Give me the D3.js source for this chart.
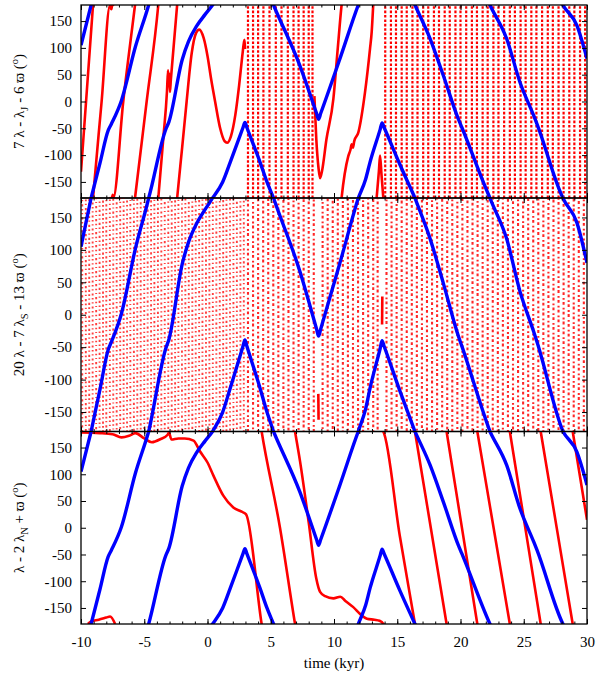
<!DOCTYPE html>
<html>
<head>
<meta charset="utf-8">
<script src="https://cdn.jsdelivr.net/npm/d3@7"></script>
<style>
body { margin: 0; background: #fff; }
svg text { font-family: "Liberation Serif", "DejaVu Serif", serif; font-size: 15px; fill: #000; }
.axis line { stroke: #000; stroke-width: 1; }
.frame { fill: none; stroke: #000; stroke-width: 1.3; }
.blue { fill: none; stroke: #0000ff; stroke-width: 3.4; stroke-linejoin: round; }
.red { fill: none; stroke: #ff0000; stroke-width: 2.6; stroke-linejoin: round; }
.cols1 { stroke: #ff0000; stroke-width: 2.2; stroke-dasharray: 2.6 1.8; }
</style>
</head>
<body>
<div id="chart"></div>
<script>
// ticks
const xMajor = [-10, -5, 0, 5, 10, 15, 20, 25, 30]
const xMinor = d3.range(-10, 31, 1)
const yMajor = [-150, -100, -50, 0, 50, 100, 150]

// blue angle (unwrapped, degrees) - same curve in the three panels
const blueCurve = [[-10,105],[-9.2,180],[-8.5,245],[-7.85,306],[-7.6,318],[-6.8,362],[-5.7,462],[-4.65,540],
  [-3.3,668],[-3.05,682],[-2.0,798],[-1.5,832],[-0.85,861],[-0.2,882],[0.4,900],[1.2,930],[1.8,967],
  [2.8,1031],[2.96,1041],[3.12,1031],[4.15,967],[4.7,930],[5.22,900],[7.3,787],[8.62,698],[8.78,687],
  [8.95,698],[10.47,800],[11.92,900],[12.5,935],[12.85,967],[13.65,1028],[13.8,1040],[13.97,1031],
  [15.2,963],[16.4,900],[17.6,837],[18.65,768],[19.85,686],[20.1,672],[22.33,540],[23.65,477],[24.7,396],
  [25.8,333],[26.05,318],[28.1,180],[29.2,142],[30,80]]

// panel 1 : 7λ - λJ - 6ϖ, solid parts (unwrapped)
const red1a = [[-10,-131],[-9.05,180],[-8.37,360],[-7.7,540],[-7.6,532],[-7.5,546],[-7.45,540],[-6.66,720],
  [-5.73,900],[-4.81,1080],[-3.89,1260],[-3.5,1370],[-3.2,1460],[-3.12,1498],[-3.07,1470],[-3.02,1492],
  [-2.97,1458],[-2.9,1480],[-2.4,1620],[-2.0,1715],[-1.65,1800],[-1.25,1890],[-0.9,1928],[-0.65,1934],
  [-0.3,1918],[0.0,1885],[0.3,1840],[0.6,1800],[1.0,1750],[1.35,1726],[1.55,1723],[1.85,1735],[2.2,1775],
  [2.5,1830],[2.75,1885],[2.88,1910],[2.93,1915],[2.97,1898]]
const red1b = [[8.45,10],[8.6,-70],[8.78,-125],[8.9,-143],[9.05,-130],[9.4,-71],[9.95,5],[10.3,100],[10.6,180],
  [11.13,258],[11.3,270],[11.4,280],[11.5,274],[11.6,286],[11.92,302],[12.45,377],[12.85,459],[12.98,490],[13.1,540]]
const red1c = [[13.37,-180],[13.55,-130],[13.64,-101],[13.75,-135],[13.9,-180]]
// panel 1 : fast circulation, sampled columns (kyr)
const red1Cols = [3.2,3.6,4.0,4.42,4.9,5.4,5.85,6.35,6.8,7.2,7.6,8.0,8.3,
  14.05,14.5,14.9,15.35,15.75,16.2,16.6,17.05,17.45,17.9,18.3,18.75,19.15,19.6,20.0,20.45,20.9,21.3,21.75,
  22.15,22.6,23.0,23.45,23.9,24.3,24.75,25.15,25.6,26.0,26.45,26.9,27.3,27.75,28.15,28.6,29.0,29.45,29.85]

// panel 2 : 20λ - 7λS - 13ϖ, chaotic columns (kyr)
const red2Cols = [-9.9,-9.62,-9.35,-9.08,-8.8,-8.53,-8.26,-8.0,-7.72,-7.45,-7.18,-6.9,-6.63,-6.36,-6.1,-5.82,
  -5.55,-5.28,-5.0,-4.73,-4.46,-4.2,-3.92,-3.65,-3.38,-3.1,-2.83,-2.56,-2.3,-2.02,-1.75,-1.48,-1.2,-0.93,-0.66,
  -0.4,-0.12,0.15,0.42,0.7,0.97,1.24,1.5,1.78,2.05,2.32,2.6,2.87,
  3.2,3.6,4.0,4.4,4.8,5.2,5.6,6.0,6.4,6.8,7.2,7.6,8.0,8.4,9.1,9.5,9.9,10.3,10.7,11.1,11.5,11.9,12.3,12.7,
  13.1,13.45,14.15,14.55,14.95,15.35,15.75,16.15,16.55,16.95,17.35,17.75,18.15,18.55,18.95,19.35,19.75,
  20.15,20.55,20.95,21.35,21.75,22.15,22.55,22.95,23.35,23.75,24.15,24.55,24.95,25.35,25.75,26.15,26.55,
  26.95,27.35,27.75,28.15,28.55,28.95,29.35,29.75]
const red2a = [[8.76,-122],[8.78,-162]]
const red2b = [[13.8,-15],[13.82,28]]

// panel 3 : λ - 2λN + ϖ (unwrapped)
const red3a = [[-10,178],[-8.5,177],[-7.5,175],[-6.8,169],[-6.2,172],[-5.7,177],[-5.0,167],[-4.4,160],
  [-3.7,166],[-3.15,174],[-3.05,178],[-2.85,165],[-2.3,167],[-1.8,167],[-1.1,163],[-0.6,143],[0.0,122],
  [0.46,98],[1.25,60],[2.04,38],[2.7,30],[3.05,25],[4.28,-180],[5.73,-360],[6.92,-540],[7.31,-595],
  [8.0,-710],[8.6,-815],[8.9,-840],[9.3,-848],[9.95,-852],[10.5,-849],[10.9,-857],[11.5,-868],[12.1,-882],
  [12.6,-890],[13.2,-892],[13.6,-894],[13.9,-900],[15.2,-1095],[16.4,-1260],[18.9,-1620],[21.33,-1980],
  [23.9,-2340],[26.34,-2700],[28.87,-3060],[30,-3225]]
const red3b = [[-9.45,-180],[-9.2,-175],[-8.6,-172],[-8.0,-168],[-7.7,-166],[-7.3,-180]]

// y labels
const yLabels = [
  [["7 λ - λ",""],["J","sub"],[" - 6 ϖ (",""],["o","sup"],[")",""]],
  [["20 λ - 7 λ",""],["S","sub"],[" - 13 ϖ (",""],["o","sup"],[")",""]],
  [["λ - 2 λ",""],["N","sub"],[" + ϖ (",""],["o","sup"],[")",""]]
]

const width = 596
const height = 674
const margin = { left: 81, right: 9 }
const panelBox = [{ top: 5, bottom: 198 }, { top: 198, bottom: 431.5 }, { top: 431.5, bottom: 624 }]
const serif = '"Liberation Serif", "DejaVu Serif", serif'

const svg = d3.select("#chart").append("svg").attr("width", width).attr("height", height)
const x = d3.scaleLinear().domain([-10, 30]).range([margin.left, width - margin.right])

// draws an angle series wrapped into [-180,180]
function drawWrapped(group, data, y, cls) {
  const vals = data.map(d => d[1])
  const kMin = Math.ceil((d3.min(vals) - 180) / 360)
  const kMax = Math.floor((d3.max(vals) + 180) / 360)
  for (let k = kMin; k <= kMax; k++) {
    group.append("path").datum(data).attr("class", cls)
      .attr("d", d3.line().curve(d3.curveMonotoneX).x(d => x(d[0])).y(d => y(d[1] - 360 * k)))
  }
}

function drawCols(group, cols, y, styleFn) {
  group.selectAll("line.col").data(cols).join("line")
    .attr("class", "col")
    .attr("x1", d => x(d)).attr("x2", d => x(d))
    .attr("y1", y(-180)).attr("y2", y(180))
    .each(function(d, i) { styleFn(d3.select(this), d, i) })
}

panelBox.forEach((p, i) => {
  const y = d3.scaleLinear().domain([-180, 180]).range([p.bottom, p.top])
  svg.append("clipPath").attr("id", "clip" + i).append("rect")
    .attr("x", x(-10)).attr("y", p.top).attr("width", x(30) - x(-10)).attr("height", p.bottom - p.top)
  const g = svg.append("g").attr("clip-path", `url(#clip${i})`)

  if (i === 0) {
    drawCols(g, red1Cols, y, s => s.attr("class", "col cols1"))
    drawWrapped(g, red1a, y, "red")
    drawWrapped(g, red1b, y, "red")
    drawWrapped(g, red1c, y, "red")
  }
  if (i === 1) {
    drawCols(g, red2Cols, y, (s, d, j) => {
      s.attr("stroke", "#ff0000")
      if (d < 3) {
        s.attr("stroke-width", 1.9).attr("opacity", 0.75)
          .attr("stroke-dasharray", "1.6 2.4 2.2 3 1.2 2.6")
          .attr("stroke-dashoffset", (j * 3.7) % 13)
      } else {
        s.attr("stroke-width", 2.1).attr("opacity", 0.85)
          .attr("stroke-dasharray", "2.8 2.2 1.8 3")
          .attr("stroke-dashoffset", (j * 2.3) % 10)
      }
    })
    drawWrapped(g, red2a, y, "red")
    drawWrapped(g, red2b, y, "red")
  }
  if (i === 2) {
    drawWrapped(g, red3a, y, "red")
    drawWrapped(g, red3b, y, "red")
  }
  drawWrapped(g, blueCurve, y, "blue")

  // axes, ticks pointing inward on all sides
  const noDomain = a => a.attr("font-family", serif).attr("font-size", 15).select(".domain").remove()
  svg.append("g").attr("class", "axis").attr("transform", `translate(${x(-10)},0)`)
    .call(d3.axisLeft(y).tickValues(yMajor).tickSizeInner(-5).tickSizeOuter(0).tickPadding(9).tickFormat(d => String(d)))
    .call(noDomain)
  svg.append("g").attr("class", "axis").attr("transform", `translate(${x(30)},0)`)
    .call(d3.axisRight(y).tickValues(yMajor).tickSizeInner(-5).tickSizeOuter(0).tickFormat(""))
    .call(noDomain)
  svg.append("g").attr("class", "axis").attr("transform", `translate(0,${p.top})`)
    .call(d3.axisTop(x).tickValues(xMinor).tickSizeInner(-2.5).tickSizeOuter(0).tickFormat(""))
    .call(noDomain)
  svg.append("g").attr("class", "axis").attr("transform", `translate(0,${p.top})`)
    .call(d3.axisTop(x).tickValues(xMajor).tickSizeInner(-5).tickSizeOuter(0).tickFormat(""))
    .call(noDomain)
  svg.append("g").attr("class", "axis").attr("transform", `translate(0,${p.bottom})`)
    .call(d3.axisBottom(x).tickValues(xMinor).tickSizeInner(-2.5).tickSizeOuter(0).tickFormat(""))
    .call(noDomain)
  svg.append("g").attr("class", "axis").attr("transform", `translate(0,${p.bottom})`)
    .call(d3.axisBottom(x).tickValues(xMajor).tickSizeInner(-5).tickSizeOuter(0).tickPadding(12)
      .tickFormat(i === 2 ? (d => String(d)) : ""))
    .call(noDomain)

  svg.append("rect").attr("class", "frame")
    .attr("x", x(-10)).attr("y", p.top).attr("width", x(30) - x(-10)).attr("height", p.bottom - p.top)

  // rotated y label with sub/superscripts
  const lab = svg.append("text")
    .attr("transform", `translate(24,${(p.top + p.bottom) / 2}) rotate(-90)`)
    .attr("text-anchor", "middle")
  let shift = 0
  yLabels[i].forEach(([txt, kind]) => {
    let dy = 0
    if (kind === "sub") dy = 4 - shift
    else if (kind === "sup") dy = -6 - shift
    else dy = -shift
    shift += dy
    lab.append("tspan").text(txt).attr("dy", dy)
      .style("font-size", kind ? "10.5px" : "15px")
  })
})

svg.append("text").attr("x", (x(-10) + x(30)) / 2).attr("y", 668)
  .attr("text-anchor", "middle").text("time (kyr)")
</script>
</body>
</html>
